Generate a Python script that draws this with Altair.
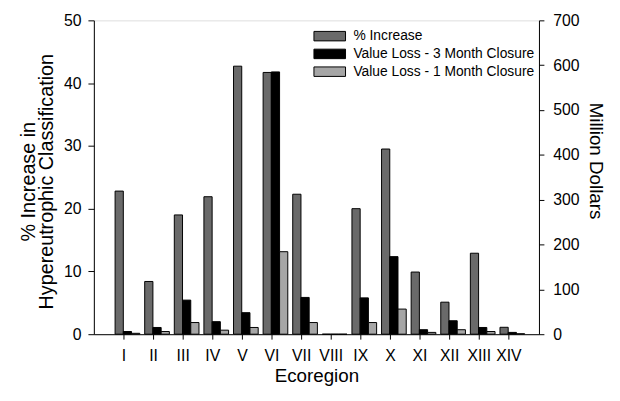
import altair as alt
import pandas as pd

regions = ["I", "II", "III", "IV", "V", "VI", "VII", "VIII", "IX", "X", "XI", "XII", "XIII", "XIV"]
pct_increase = [22.8, 8.4, 19.0, 21.9, 42.7, 41.7, 22.3, 0, 20.0, 29.5, 9.9, 5.1, 12.9, 1.1]
loss_3month = [6, 15, 76, 28, 48, 585, 82, 0, 81, 173, 10, 30, 15, 4]
loss_1month = [2, 6, 26, 9, 15, 184, 26, 0, 26, 56, 4, 10, 6, 1]

series_names = ["% Increase", "Value Loss - 3 Month Closure", "Value Loss - 1 Month Closure"]
series_colors = ["#6a6a6a", "#000000", "#a6a6a6"]

rows = []
for i, r in enumerate(regions):
    rows.append({"region": r, "series": series_names[0], "value": pct_increase[i]})
    rows.append({"region": r, "series": series_names[1], "value": loss_3month[i]})
    rows.append({"region": r, "series": series_names[2], "value": loss_1month[i]})
df = pd.DataFrame(rows)
legend_df = pd.DataFrame({"series": series_names})

FONT = "Liberation Sans"

x_enc = alt.X(
    "region:N",
    sort=regions,
    scale=alt.Scale(paddingInner=0, paddingOuter=0.517),
    axis=alt.Axis(
        title="Ecoregion", labelAngle=0, labelFontSize=16, titleFontSize=19,
        tickSize=5, labelPadding=9, titleFontWeight="normal",
        titleBaseline="alphabetic", titleY=48,
        labelColor="black", titleColor="black", domainColor="black", tickColor="black",
    ),
)
xoff_enc = alt.XOffset(
    "series:N", sort=series_names,
    scale=alt.Scale(domain=series_names, range=[6, 31], paddingInner=0, paddingOuter=0),
)
color_enc = alt.Color(
    "series:N",
    scale=alt.Scale(domain=series_names, range=series_colors),
    legend=None,
)

base = alt.Chart(df)

left = base.transform_filter(alt.datum.series == series_names[0]).mark_bar(
    stroke="black", strokeWidth=1
).encode(
    x=x_enc,
    xOffset=xoff_enc,
    y=alt.Y(
        "value:Q",
        scale=alt.Scale(domain=[0, 50], nice=False),
        axis=alt.Axis(
            title=["% Increase in", "Hypereutrophic Classification"],
            values=[0, 10, 20, 30, 40, 50], grid=False, labelFontSize=16,
            titleFontSize=20, titleLineHeight=18, titleFontWeight="normal",
            titleBaseline="middle", titleX=-66, titleY=163,
            tickSize=6, labelPadding=7,
            labelColor="black", titleColor="black",
            domainColor="black", tickColor="black",
        ),
    ),
    color=color_enc,
)

right = base.transform_filter(alt.datum.series != series_names[0]).mark_bar(
    stroke="black", strokeWidth=1
).encode(
    x=x_enc,
    xOffset=xoff_enc,
    y=alt.Y(
        "value:Q",
        scale=alt.Scale(domain=[0, 700], nice=False),
        axis=alt.Axis(
            title="Million Dollars", orient="right",
            values=[0, 100, 200, 300, 400, 500, 600, 700], grid=False,
            labelFontSize=16, titleFontSize=19, titleFontWeight="normal",
            titleBaseline="middle", titleX=57, titleY=142,
            tickSize=5, labelPadding=9,
            labelColor="black", titleColor="black",
            domainColor="black", tickColor="black",
        ),
    ),
    color=color_enc,
)

legend_y = alt.Y(
    "series:N",
    scale=alt.Scale(type="point", domain=series_names, range=[16, 52], padding=0),
    axis=None,
)

legend_sym = alt.Chart(legend_df).mark_point(
    shape="M-1,-0.3L1,-0.3L1,0.3L-1,0.3Z", size=1024, filled=True,
    stroke="black", strokeWidth=1, opacity=1,
).encode(
    x=alt.value(239),
    y=legend_y,
    color=color_enc,
)

legend_txt = alt.Chart(legend_df).mark_text(
    align="left", baseline="middle", fontSize=14, color="black", font=FONT,
).encode(
    x=alt.value(263),
    y=legend_y,
    text="series:N",
)

chart = alt.layer(left, right, legend_sym, legend_txt).resolve_scale(
    y="independent"
).properties(
    width=451, height=318,
    autosize=alt.AutoSizeParams(type="none"),
    padding={"left": 87, "top": 10, "right": 74, "bottom": 52},
).configure_view(
    stroke="black", strokeWidth=1
).configure(
    font=FONT, background="white"
)

chart.save("out.html", embed_options={"renderer": "svg", "actions": False})
